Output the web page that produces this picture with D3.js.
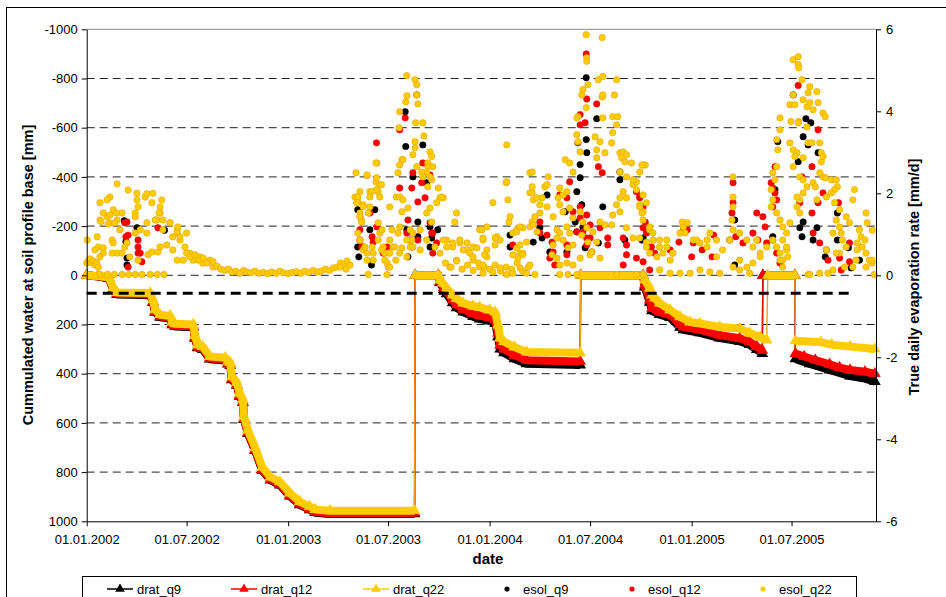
<!DOCTYPE html>
<html><head><meta charset="utf-8">
<script src="https://cdn.jsdelivr.net/npm/d3@7"></script>
<style>body{margin:0;background:#fff}svg{display:block;font-family:"Liberation Sans",Arial,sans-serif}</style>
</head><body>
<svg id="c" width="946" height="597"></svg>
<script>
// ---- DATA (x values are days since 01.01.2002) ----
const startDate = "2002-01-01";
const endDate = "2005-12-01";
const xTickLabels = ["01.01.2002","01.07.2002","01.01.2003","01.07.2003","01.01.2004","01.07.2004","01.01.2005","01.07.2005"];
const leftTicks = [-1000,-800,-600,-400,-200,0,200,400,600,800,1000];
const rightTicks = [6,4,2,0,-2,-4,-6];
const seriesNames = ["drat_q9","drat_q12","drat_q22","esol_q9","esol_q12","esol_q22"];
const thresholdLine = [[0,73],[1387,73]];

// each inner array is a continuous run; runs are joined by thin lines
const dratQ22 = [
 [[0,0],[20,3],[40,8],[48,50],[55,70],[115,72],[120,100],[124,140],[133,160],[151,165],[155,190],[160,197],[193,200],[196,245],[201,283],[210,290],[223,330],[251,335],[256,350],[260,355],[263,413],[272,435],[277,480],[283,505],[285,575],[292,630],[305,700],[318,780],[333,820],[350,840],[368,885],[386,920],[404,940],[414,952],[441,957],[594,957]],
 [[595,0],[637,0],[640,20],[645,32],[652,52],[663,80],[670,95],[682,113],[700,125],[712,130],[730,141],[740,150],[745,202],[749,255],[756,270],[775,292],[797,312],[894,315]],
 [[895,0],[1008,0],[1011,20],[1020,52],[1024,80],[1029,93],[1038,113],[1057,141],[1075,169],[1093,190],[1111,196],[1147,210],[1183,216],[1201,235],[1220,251],[1232,263]],
 [[1234,0],[1283,0]],
 [[1284,266],[1330,272],[1350,282],[1383,290],[1428,300]]
];
const dratQ12 = [
 [[0,0],[20,4],[40,10],[48,55],[55,75],[115,78],[120,108],[124,148],[133,168],[151,173],[155,198],[160,205],[193,208],[196,253],[201,292],[210,298],[223,338],[251,343],[256,358],[260,364],[263,422],[272,444],[277,489],[283,514],[285,584],[292,640],[305,710],[318,790],[333,830],[350,850],[368,895],[386,930],[404,950],[414,962],[441,967],[594,967]],
 [[595,0],[637,0],[640,25],[647,50],[652,65],[663,100],[670,120],[682,138],[700,155],[712,165],[730,172],[740,182],[745,235],[749,285],[756,300],[775,325],[797,345],[894,350]],
 [[895,0],[1008,0],[1011,40],[1020,100],[1024,134],[1038,150],[1057,161],[1075,200],[1081,210],[1111,222],[1147,243],[1183,256],[1201,270],[1214,290],[1224,305]],
 [[1225,0],[1283,0]],
 [[1284,318],[1300,330],[1320,345],[1346,362],[1364,375],[1383,385],[1410,392],[1428,400]]
];
const dratQ9 = [
 [[0,0],[20,5],[40,12],[48,58],[55,78],[115,81],[120,111],[124,151],[133,171],[151,176],[155,201],[160,208],[193,211],[196,256],[201,295],[210,301],[223,341],[251,346],[256,361],[260,367],[263,425],[272,447],[277,492],[283,517],[285,587],[292,643],[305,713],[318,793],[333,833],[350,853],[368,898],[386,933],[404,953],[414,965],[441,970],[594,970]],
 [[595,0],[637,0],[640,30],[647,58],[652,75],[663,112],[670,132],[682,150],[700,168],[712,178],[730,185],[740,196],[745,250],[749,300],[756,315],[775,340],[797,360],[894,365]],
 [[895,0],[1008,0],[1011,48],[1020,110],[1024,145],[1038,160],[1057,172],[1075,212],[1081,222],[1111,234],[1147,255],[1183,268],[1201,282],[1214,302],[1224,318]],
 [[1225,0],[1283,0]],
 [[1284,340],[1310,360],[1346,385],[1383,410],[1410,420],[1428,432]]
];

const esolQ22 = [
 [0,.3],[3,.35],[6,.4],[9,.3],[12,.35],[15,.25],[18,.3],[21,.2],
 [24,.02],[37,.02],[50,.02],[64,.02],[76,.02],[88,.02],[100,.02],[115,.02],[128,.02],[140,.02],
 [55,2.23],[75,2.08],[42,1.91],[24,1.77],[37,1.84],[91,2.0],[91,1.84],[106,1.91],[109,1.99],[120,2.0],[118,1.77],[136,1.84],[133,1.67],[133,1.52],[127,1.35],[24,1.35],[30,1.52],[37,1.43],[42,1.28],[48,1.6],[55,1.35],[64,1.52],[60,1.11],[1,.86],[19,.94],[21,.69],[30,.54],[46,.86],[55,.54],[73,.79],[88,1.03],[97,1.11],[109,1.03],[138,1.11],[151,1.28],[156,.94],[164,1.11],[169,.86],[181,1.03],[178,.69],[187,.54],[193,.37],[205,.45],[210,.3],[223,.37],[229,.2],
 [26,1.31],[54,1.52],[42,1.47],[88,1.52],[93,1.67],[88,1.43],[131,1.52],[39,1.25],[51,1.28],[109,1.28],[124,1.35],[138,1.35],[151,1.28],[165,1.18],[164,1.03],[169,.94],
 [15,.62],[30,.67],[48,.79],[24,.45],[46,.54],[64,.54],[69,.69],[78,.45],[93,.37],[111,.5],[118,.57],[129,.57],[133,.69],[145,.74],[156,.62],[164,.37],[175,.37],
 [181,.54],[187,.45],[196,.5],[202,.37],[211,.42],[218,.3],[229,.33],
 [236,.22],[243,.15],[250,.12],[257,.15],[263,.08],[270,.1],[277,.05],[284,.12],[290,.08],[297,.06],[305,.1],[312,.05],[320,.07],[328,.04],[335,.08],[343,.05],[350,.1],[357,.06],[365,.04],[372,.07],[380,.09],[388,.05],[395,.1],[402,.07],[410,.12],[418,.08],[425,.1],[432,.15],[440,.12],[447,.18],[453,.2],[460,.3],[466,.25],[472,.35],[459,.2],[470,.15],[477,.25],
 [580,4.87],[595,4.77],[598,4.65],[580,4.38],[578,4.23],[598,4.4],[600,4.18],[567,3.99],[566,3.6],[596,3.72],[609,3.72],[611,3.4],[595,3.26],[595,3.11],[591,2.94],[571,2.82],[526,2.74],[488,2.5],[508,2.43],[524,2.28],[531,2.21],[528,2.04],[513,2.04],[495,2.04],[490,1.89],[491,1.79],[501,1.72],[513,1.67],[510,1.52],[495,1.43],[531,1.91],
 [622,3.01],[625,2.9],[618,2.74],[627,2.65],[616,2.5],[607,2.52],[609,2.4],[625,2.33],[618,2.16],[640,1.89],[646,1.89],[634,1.77],[622,1.64],[616,1.52],[625,1.3],[604,1.11],[586,1.11],[567,1.18],[553,1.11],[549,.86],[555,.69],[546,.54],[546,.2],[560,.37],[567,.54],[571,.67],[580,.45],[586,.69],[589,.86],[591,1.03],
 [486,1.91],[491,1.84],[495,1.52],[498,1.35],[491,1.03],[495,.86],[501,.62],[508,.37],[510,.02],[517,.69],[519,.54],[528,.86],[531,1.03],[535,1.11],[537,.69],[540,.54],[544,.3],[544,.02],[549,.54],
 [508,2.45],[525,2.38],[534,2.21],[525,2.09],[516,2.04],[513,1.91],[491,1.91],[489,1.77],[501,1.67],[495,1.43],[498,1.3],[528,1.28],[549,1.67],[561,1.91],[567,1.91],[573,1.84],[571,1.55],[582,1.64],[564,2.5],[567,2.69],[573,2.82],[524,2.74],[598,2.65],[618,2.65],[622,2.4],[637,2.13],[643,1.91],[670,1.52],[667,1.3],
 [504,.69],[508,.54],[519,.37],[534,.62],[540,.37],[549,.2],[558,.69],[564,1.03],[580,.86],[591,.69],[604,.62],[616,.86],[631,.69],[640,.54],[652,.86],[663,.69],[676,.79],[689,.62],[700,.69],[712,1.11],[718,.86],[725,.62],[670,.37],[658,.2],[700,.37],[712,.2],
 [646,.86],[652,.69],[663,.79],[676,.86],[682,.62],[689,.79],[694,.54],[700,.45],[707,.67],[716,1.11],[725,.45],[736,1.77],[743,.94],[749,.86],
 [650,.3],[660,.2],[670,.35],[680,.15],[690,.25],[700,.12],[710,.3],[720,.2],[730,.15],[740,.25],[750,.1],[760,.2],[770,.15],[780,.3],[790,.1],[800,.2],
 [761,3.18],[760,2.26],[763,1.84],[767,1.43],[765,1.3],[772,1.03],[779,1.11],[785,.54],[790,.54],[803,2.5],[807,2.16],[803,2.01],[809,1.84],[812,1.43],[821,1.52],[834,1.67],[836,2.4],[830,2.16],[845,1.43],[852,1.11],[857,1.03],[863,.86],[870,1.18],[875,1.03],
 [905,5.87],[934,5.8],[906,5.31],[906,5.22],[927,4.77],[935,4.85],[908,4.65],[899,4.53],[897,4.4],[934,4.35],[935,4.4],[960,4.77],[956,4.4],[905,4.09],[890,3.87],[888,3.84],[953,3.87],[962,3.87],[960,3.67],[935,3.84],[888,3.43],[890,3.26],[894,3.01],[921,3.38],[930,3.26],[924,3.06],[939,2.99],[924,2.87],[953,3.48],[951,3.23],[966,2.99],[972,3.01],[978,2.94],[969,2.87],[975,2.77],[987,2.74],[1002,2.52],[1008,2.69],[966,2.52],[978,2.4],
 [867,2.82],[875,2.74],[881,2.52],[857,2.13],[863,1.96],[870,2.04],[854,1.89],[834,2.21],[825,1.89],[807,2.52],[807,2.01],[815,1.89],[821,1.72],[807,1.3],[803,1.18],[790,1.16],[785,1.18],[779,1.06],[761,2.28],[725,1.18],[718,.91],[721,.5],[718,.25],[740,.91],[740,.74],
 [857,1.72],[863,1.55],[875,1.64],[881,1.4],[894,1.55],[899,1.3],[906,1.16],[897,.98],[908,.81],[917,1.06],[930,1.3],[939,1.23],[951,1.23],[953,1.47],[960,1.72],[966,1.89],[972,2.04],[978,1.89],[990,2.21],[996,2.28],[1002,1.72],[1008,1.55],[966,1.55],[978,1.16],[990,.91],[1002,.91],[1014,.81],[924,.81],[930,.42],[912,.5],[915,.57],[881,.74],[872,.67],[852,.91],[845,.74],[843,.5],[852,.42],[857,.25],[870,.3],[881,.25],[894,.42],[809,1.23],[816,1.06],[797,.81],[779,.67],[781,.42],[790,.5],[803,.25],[785,.74],[772,.5],
 [718,.05],[736,.08],[749,.18],[761,.02],[772,.05],[785,.18],[797,.05],[812,.02],[857,.02],[872,.02],[888,.02],[960,.02],[996,.02],[1008,.02],
 [1012,2.69],[1008,1.96],[1006,1.52],[1008,1.35],[1020,1.11],[1026,.86],[1038,.69],[1051,.86],[1014,.69],[1020,.54],[1033,.45],[1044,.54],[1057,.37],[1062,.54],[1075,1.03],[1081,1.18],[1088,1.28],[1099,.86],[1111,.79],[1124,.86],[1129,1.03],[1141,.86],[1152,.62],[1165,.86],[1171,1.11],[1169,1.35],[1171,1.67],[1171,1.91],[1171,2.4],[1183,1.03],[1196,.86],[1207,.69],[1220,.54],[1232,.69],[1243,.86],[1250,.69],[1256,.54],[1261,.37],[1268,.62],[1214,.86],[1183,.37],[1196,.2],[1207,.3],[1220,.45],
 [1038,.13],[1057,.05],[1075,.05],[1093,.05],[1111,.13],[1129,.08],[1147,.05],[1171,.2],[1183,.13],[1201,.05],
 [990,2.33],[1006,2.69],[996,2.09],[1002,1.67],[1014,1.77],[1020,1.18],[1026,1.03],[1038,.86],[1051,.69],[1062,.54],[1079,1.3],[1084,1.03],[1105,.86],[1124,.69],[1141,.45],
 [1280,5.26],[1289,5.33],[1289,5.14],[1290,5.06],[1296,4.77],[1310,4.6],[1323,4.48],[1307,4.45],[1280,4.4],[1274,4.16],[1283,4.16],[1298,4.28],[1305,4.11],[1310,4.21],[1316,4.04],[1325,4.21],[1334,3.96],[1338,3.87],[1256,3.84],[1256,3.55],[1250,3.31],[1252,3.06],[1276,3.75],[1290,3.75],[1305,3.62],[1289,3.72],[1274,3.23],[1280,3.06],[1287,2.99],[1283,2.9],[1298,2.87],[1307,3.23],[1314,3.23],[1328,3.23],[1331,2.99],[1331,2.77],[1280,2.65],[1292,2.4],[1298,2.33],[1316,2.26],[1320,2.16],[1334,2.4],[1305,2.16],[1298,2.01],[1292,1.84],[1287,1.67],[1274,1.28],[1292,1.52],[1287,1.91],
 [1338,2.38],[1349,2.33],[1358,2.33],[1360,2.16],[1355,2.09],[1349,2.01],[1340,1.91],[1355,1.77],[1364,1.6],[1358,1.35],[1364,1.18],[1367,1.03],[1352,1.03],[1376,1.43],[1382,1.28],[1388,1.84],[1391,2.09],[1400,1.11],[1403,.94],[1412,1.52],[1414,1.28],[1396,.79],[1405,.69],[1412,.54],[1418,.37],[1423,.3],[1394,.37],[1388,.2],[1369,.86],[1376,.69],[1364,.54],[1373,.2],[1352,.13],[1343,.05],[1328,.05],[1307,.02],[1340,.62],[1358,.54],[1310,.02],
 [1250,2.65],[1243,2.5],[1247,2.33],[1240,2.09],[1243,1.84],[1240,1.67],[1250,1.52],[1256,1.35],[1261,1.18],[1268,1.03],[1261,.86],[1268,.69],[1270,.45],[1256,.37],[1261,.2],
 [1323,1.84],[1328,2.5],[1334,2.9],[1423,1.1],[1410,.86],[1396,.62],[1412,.2],[1423,.37],[1427,.02]
];
const esolQ12 = [
 [69,1.28],[73,1.3],[71,.94],[75,.98],[93,.86],[93,.69],[93,.54],[97,.54],[100,.33],[75,.2],[129,1.16],
 [525,3.23],[567,3.55],[577,3.84],[598,4.4],[591,2.5],[609,2.74],[622,2.45],[567,2.13],[600,1.79],[495,1.11],[498,.69],[580,1.03],[586,.86],[600,.86],[625,1.03],[634,.79],[627,.54],[526,1.18],[517,.94],[544,.69],
 [589,2.13],[607,2.26],[613,1.89],[513,1.52],[582,1.35],[495,.86],[501,.69],[519,.81],[537,.54],[589,.69],[622,1.28],[627,1.03],
 [905,5.4],[906,4.3],[924,4.18],[894,3.67],[903,3.72],[890,3.23],[927,2.65],[934,2.5],[875,2.28],[857,1.96],[870,1.89],[894,1.67],[881,1.55],[906,1.47],[894,1.4],[912,1.23],[899,1.06],[821,1.3],[834,.98],[843,.81],[845,.57],[839,.42],[848,.25],[870,.74],[870,.5],[888,1.06],[906,.74],[915,.57],[944,.91],[944,.74],[972,.91],[978,.74],[996,2.04],[1002,1.89],[1008,1.16],[996,.42],[912,.91],[930,1.16],[772,.74],[821,1.03],[894,3.92],[906,.91],[972,.25],[978,.5],
 [1002,1.91],[1008,1.67],[1012,1.3],[1014,1.03],[1023,.69],[1008,.33],[1020,.13],[1029,.54],[1057,.62],[1081,1.11],[1088,1.11],[1073,.81],[1099,.79],[1115,.62],[1096,.45],[1136,.98],[1133,.45],[1171,2.26],[1171,1.77],[1169,1.52],[1165,.86],[1176,.94],[1189,.79],[1207,1.03],[1214,1.52],[1216,.86],[1225,1.43],[1229,1.18],[1232,.79],[1243,.86],[1250,.54],[1256,.3],[1240,2.26],[1243,2.13],[1247,2.01],[1250,1.84],[1243,1.67],[1247,2.65],[1289,4.63],[1325,3.55],[1314,2.65],[1292,1.77],[1314,1.52],[1334,2.01],[1325,1.77],[1316,1.03],[1328,.79],[1340,.62],[1343,.37],[1362,1.77],[1364,.42],[1382,.79],[1367,.13],[1296,2.4],[1382,.33]
];
const esolQ9 = [
 [68,1.33],[91,1.16],[141,1.1],[71,.82],[73,.42],[73,.25],
 [491,1.6],[522,1.6],[577,3.99],[578,3.14],[609,3.18],[591,2.4],[616,2.26],[600,1.3],[580,1.11],[493,.45],[513,1.11],[636,1.11],[622,1.18],[582,.45],[622,.69],[600,.94],[625,.91],[491,.69],[516,.25],
 [905,4.82],[924,3.82],[905,3.31],[906,2.99],[894,2.7],[894,2.38],[888,2.04],[867,1.55],[897,1.72],[899,1.18],[888,1.06],[885,1.3],[834,1.96],[821,1.16],[825,.91],[809,.81],[767,.98],[767,.69],[903,.67],[927,.79],[935,1.67],[966,2.52],[966,2.33],[975,.86],[1008,.91],[870,.57],[839,.57],
 [1006,.86],[1174,1.35],[1174,.25],[1247,2.09],[1243,.94],[1252,3.26],[1280,4.4],[1298,3.38],[1303,3.82],[1312,3.72],[1289,2.77],[1307,3.18],[1325,2.99],[1292,1.16],[1296,.94],[1298,1.3],[1360,1.52],[1360,.86],[1323,1.16],[1338,.45],[1380,.67],[1385,.18],[1400,.37],[1316,.86]
];

// ---- CHART ----
const svg = d3.select("#c");
const FONT = '"Liberation Sans", Arial, sans-serif';
const t0 = new Date(startDate + "T00:00:00Z");
const t1 = new Date(endDate + "T00:00:00Z");
const dayToDate = d => d3.utcDay.offset(t0, d);
const parseTick = s => { const [dd, mm, yy] = s.split("."); return new Date(Date.UTC(+yy, +mm - 1, +dd)); };

const L = 86.7, R = 876, T = 29.3, B = 521.3;
const x = d3.scaleUtc().domain([t0, t1]).range([L, R]);
const yL = d3.scaleLinear().domain([-1000, 1000]).range([T, B]);
const yR = d3.scaleLinear().domain([6, -6]).range([T, B]);

// outer frame
svg.append("rect").attr("x", 6.5).attr("y", 7.5).attr("width", 1000).attr("height", 700)
  .attr("fill", "none").attr("stroke", "#000").attr("stroke-width", 1);

// gridlines
svg.append("g").selectAll("line").data(leftTicks.filter(v => v > -1000 && v < 1000)).join("line")
  .attr("x1", L).attr("x2", R).attr("y1", d => yL(d)).attr("y2", d => yL(d))
  .attr("stroke", "#222").attr("stroke-width", 1).attr("stroke-dasharray", "8,5");
svg.append("line").attr("x1", L).attr("x2", R).attr("y1", yL(-1000)).attr("y2", yL(-1000))
  .attr("stroke", "#8a8a8a").attr("stroke-width", 1);

// drat series
const colors = { q9: "#000000", q12: "#FF0000", q22: "#FFCC00" };
const connColors = { q9: "#000000", q12: "#E01010", q22: "#E9A02A" };
const lineGen = d3.line().x(d => x(dayToDate(d[0]))).y(d => yL(d[1]));
const tri = d3.symbol().type(d3.symbolTriangle).size(60);
function drawDrat(segs, key) {
  const g = svg.append("g");
  for (let i = 0; i < segs.length - 1; i++) {
    const a = segs[i][segs[i].length - 1], b = segs[i + 1][0];
    g.append("path").attr("d", lineGen([a, b])).attr("fill", "none")
      .attr("stroke", connColors[key]).attr("stroke-width", 1.4);
  }
  segs.forEach(seg => {
    g.append("path").attr("d", lineGen(seg)).attr("fill", "none")
      .attr("stroke", colors[key]).attr("stroke-width", 8).attr("stroke-linejoin", "round");
    g.selectAll(null).data(seg).join("path")
      .attr("d", tri).attr("fill", colors[key])
      .attr("transform", d => `translate(${x(dayToDate(d[0]))},${yL(d[1])})`);
  });
}
drawDrat(dratQ9, "q9");
drawDrat(dratQ12, "q12");
drawDrat(dratQ22, "q22");

// threshold
svg.append("path").attr("d", lineGen(thresholdLine)).attr("stroke", "#000")
  .attr("stroke-width", 3).attr("stroke-dasharray", "10,6").attr("fill", "none");

// esol scatter
function drawEsol(data, fill, stroke) {
  svg.append("g").selectAll("circle").data(data).join("circle")
    .attr("cx", d => x(dayToDate(d[0]))).attr("cy", d => yR(d[1])).attr("r", 3.2)
    .attr("fill", fill).attr("stroke", stroke).attr("stroke-width", 0.6);
}
drawEsol(esolQ9, "#000", "#000");
drawEsol(esolQ12, "#FF0000", "#E00000");
drawEsol(esolQ22, "#FFCC00", "#E0A400");

// axes
const styleAxis = g => {
  g.selectAll("text").attr("font-family", FONT).attr("font-size", 13).attr("fill", "#000");
  g.selectAll("line,path").attr("stroke", "#000");
};
svg.append("g").attr("transform", `translate(${L},0)`)
  .call(d3.axisLeft(yL).tickValues(leftTicks).tickSize(5).tickSizeOuter(0).tickPadding(4).tickFormat(d => String(d)))
  .call(styleAxis);
svg.append("g").attr("transform", `translate(${R},0)`)
  .call(d3.axisRight(yR).tickValues(rightTicks).tickSize(5).tickSizeOuter(0).tickPadding(5).tickFormat(d => String(d)))
  .call(styleAxis);
svg.append("g").attr("transform", `translate(0,${B})`)
  .call(d3.axisBottom(x).tickValues(xTickLabels.map(parseTick)).tickSize(5).tickSizeOuter(0).tickPadding(8)
    .tickFormat((d, i) => xTickLabels[i]))
  .call(styleAxis);

// titles
svg.append("text").attr("x", 488).attr("y", 564).attr("text-anchor", "middle")
  .attr("font-family", FONT).attr("font-weight", "bold").attr("font-size", 15).text("date");
svg.append("text").attr("transform", "translate(33,275) rotate(-90)").attr("text-anchor", "middle")
  .attr("font-family", FONT).attr("font-weight", "bold").attr("font-size", 14.5)
  .text("Cummulated water at soil profile base [mm]");
svg.append("text").attr("transform", "translate(919,277) rotate(-90)").attr("text-anchor", "middle")
  .attr("font-family", FONT).attr("font-weight", "bold").attr("font-size", 14.5)
  .text("True daily evaporation rate [mm/d]");

// legend
const lg = svg.append("g");
lg.append("rect").attr("x", 82.5).attr("y", 576.5).attr("width", 774).attr("height", 60)
  .attr("fill", "#fff").attr("stroke", "#000").attr("stroke-width", 1);
const legX = [107, 231, 363, 507, 632, 763];
const legY = 589;
const legTri = d3.symbol().type(d3.symbolTriangle).size(40);
seriesNames.forEach((name, i) => {
  const key = name.split("_")[1];
  const x0 = legX[i];
  let tx;
  if (name.startsWith("drat")) {
    lg.append("line").attr("x1", x0).attr("x2", x0 + 26).attr("y1", legY).attr("y2", legY)
      .attr("stroke", colors[key]).attr("stroke-width", 1.5);
    lg.append("path").attr("d", legTri).attr("fill", colors[key]).attr("transform", `translate(${x0 + 13},${legY})`);
    tx = x0 + 30;
  } else {
    lg.append("circle").attr("cx", x0).attr("cy", legY).attr("r", 2.6).attr("fill", colors[key]);
    tx = x0 + 16;
  }
  lg.append("text").attr("x", tx).attr("y", legY).attr("dy", "0.35em")
    .attr("font-family", FONT).attr("font-size", 13).text(name);
});
</script>
</body></html>
